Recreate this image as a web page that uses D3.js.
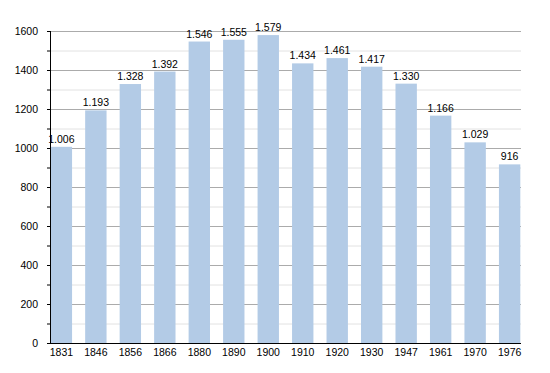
<!DOCTYPE html>
<html>
<head>
<meta charset="utf-8">
<script src="https://cdn.jsdelivr.net/npm/d3@7"></script>
<style>
  body { margin: 0; background: #fff; }
  svg text { font-family: "Liberation Sans", Arial, sans-serif; fill: #000; }
</style>
</head>
<body>
<div id="chart"></div>
<script>
"use strict";

var years = ["1831", "1846", "1856", "1866", "1880", "1890", "1900", "1910", "1920", "1930", "1947", "1961", "1970", "1976"];
var population = [1006, 1193, 1328, 1392, 1546, 1555, 1579, 1434, 1461, 1417, 1330, 1166, 1029, 916];
var yTicks = [0, 200, 400, 600, 800, 1000, 1200, 1400, 1600];
var yMinorTicks = [100, 300, 500, 700, 900, 1100, 1300, 1500];

var svg = d3.select("#chart").append("svg")
	.attr("width", 550).attr("height", 373);

var margin = {top: 31, right: 29, bottom: 30, left: 50},
	width = 550 - margin.left - margin.right,
	height = 373 - margin.top - margin.bottom,
	g = svg.append("g").attr("transform", "translate(" + margin.left + "," + margin.top + ")");

var x = d3.scaleBand().domain(years).range([0, width]).paddingInner(0.38).paddingOuter(0.02);
var y = d3.scaleLinear().domain([0, 1600]).range([height, 0]);

// grid lines, light ones every 100, darker every 200
g.selectAll(".minor").data(yMinorTicks).enter().append("line")
	.attr("x1", 0).attr("x2", width)
	.attr("y1", function(d) { return y(d) + 0.5; })
	.attr("y2", function(d) { return y(d) + 0.5; })
	.attr("stroke", "#e2e2e2");

g.selectAll(".major").data(yTicks.slice(1)).enter().append("line")
	.attr("x1", 0).attr("x2", width)
	.attr("y1", function(d) { return y(d) + 0.5; })
	.attr("y2", function(d) { return y(d) + 0.5; })
	.attr("stroke", "#ababab");

g.selectAll(".bar").data(population).enter().append("rect")
	.attr("x", function(d, i) { return x(years[i]); })
	.attr("y", function(d) { return y(d); })
	.attr("width", x.bandwidth())
	.attr("height", function(d) { return height - y(d); })
	.attr("fill", "#b3cbe6");

var fmt = d3.formatLocale({decimal: ",", thousands: ".", grouping: [3], currency: ["", ""]}).format(",d");

g.selectAll(".val").data(population).enter().append("text")
	.attr("x", function(d, i) { return x(years[i]) + x.bandwidth() / 2; })
	.attr("y", function(d) { return y(d) - 4; })
	.attr("text-anchor", "middle")
	.style("font-size", "10.5px")
	.text(function(d) { return fmt(d); });

// y axis
var yAxis = g.append("g")
	.call(d3.axisLeft(y).tickValues(yTicks).tickSize(3).tickPadding(9).tickFormat(d3.format("d")));
yAxis.select(".domain").attr("d", "M0.5,0V" + height).attr("stroke", "#000");
yAxis.selectAll("text").style("font-size", "10.5px").style("font-family", "Liberation Sans, Arial, sans-serif");

g.append("g")
	.call(d3.axisLeft(y).tickValues(yMinorTicks).tickSize(3).tickFormat(""))
	.select(".domain").remove();

// x axis
var xAxis = g.append("g")
	.attr("transform", "translate(0," + height + ")")
	.call(d3.axisBottom(x).tickSize(0).tickPadding(6));
xAxis.select(".domain").attr("d", "M0,0.5H" + width).attr("stroke", "#000");
xAxis.selectAll("text").style("font-size", "10.5px").style("font-family", "Liberation Sans, Arial, sans-serif");
</script>
</body>
</html>
